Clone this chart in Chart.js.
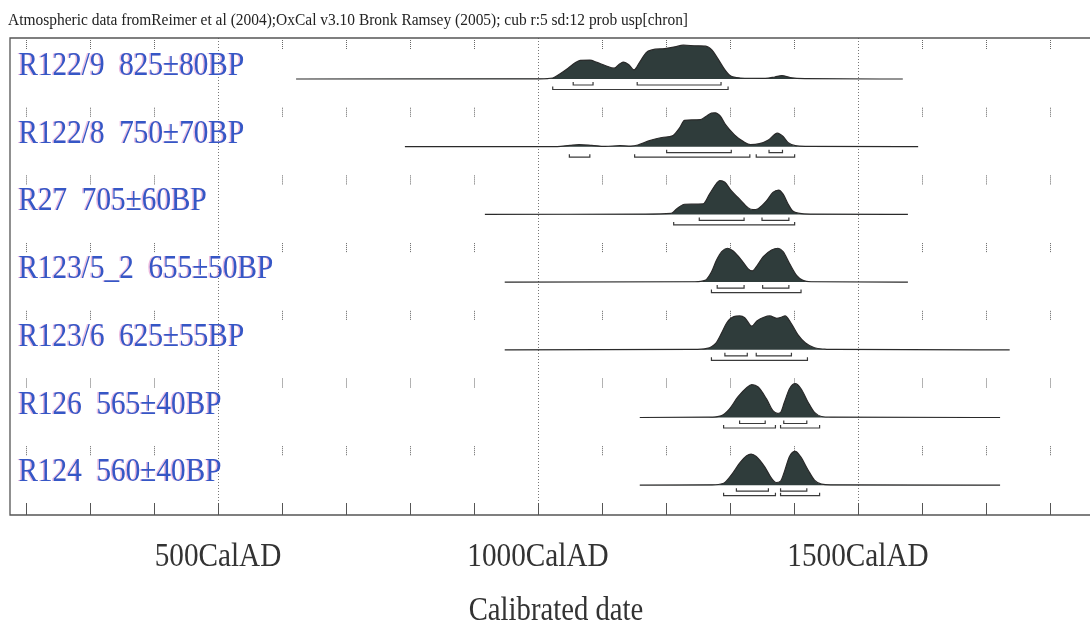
<!DOCTYPE html>
<html>
<head>
<meta charset="utf-8">
<script src="https://cdn.jsdelivr.net/npm/chart.js@4.4.0/dist/chart.umd.min.js"></script>
<style>
  body { margin: 0; background: #fff; }
  #wrap { width: 1090px; height: 622px; }
</style>
</head>
<body>
<div id="wrap"><canvas id="mycanvas" width="1090" height="622"></canvas></div>
<script>
// sample names and radiocarbon ages
var sampleNames = ['R122/9', 'R122/8', 'R27', 'R123/5_2', 'R123/6', 'R126', 'R124'];
var bpAges = [825, 750, 705, 655, 625, 565, 560];
var bpErrors = [80, 70, 60, 50, 55, 40, 40];

// calibrated distributions (year AD, relative probability)
var r1Years = [622, 1003, 1023, 1034, 1047, 1058, 1066, 1081, 1092, 1105, 1119, 1128, 1134, 1142, 1150, 1159, 1169, 1178, 1198, 1214, 1227, 1248, 1262, 1272, 1281, 1291, 1300, 1316, 1355, 1370, 1381, 1394, 1417, 1570];
var r1Prob  = [0, 0.005, 0.03, 0.15, 0.32, 0.48, 0.55, 0.56, 0.49, 0.4, 0.32, 0.45, 0.5, 0.42, 0.27, 0.5, 0.78, 0.86, 0.9, 0.95, 1.0, 0.98, 0.97, 0.85, 0.6, 0.3, 0.1, 0.03, 0.02, 0.06, 0.1, 0.04, 0.01, 0];

var r2Years = [792, 1030, 1050, 1064, 1084, 1105, 1128, 1145, 1156, 1173, 1196, 1210, 1221, 1229, 1240, 1254, 1263, 1271, 1277, 1285, 1293, 1307, 1321, 1332, 1346, 1360, 1374, 1383, 1391, 1402, 1419, 1594];
var r2Prob  = [0, 0.005, 0.04, 0.06, 0.04, 0.01, 0.03, 0.02, 0.05, 0.17, 0.28, 0.32, 0.55, 0.78, 0.79, 0.8, 0.9, 0.99, 1.0, 0.9, 0.65, 0.35, 0.15, 0.06, 0.09, 0.2, 0.4, 0.3, 0.12, 0.03, 0.01, 0];

var r3Years = [917, 1167, 1208, 1216, 1229, 1258, 1268, 1279, 1284, 1292, 1302, 1315, 1328, 1336, 1344, 1357, 1367, 1376, 1383, 1391, 1398, 1409, 1427, 1578];
var r3Prob  = [0, 0.01, 0.03, 0.15, 0.3, 0.31, 0.6, 0.92, 1.0, 0.95, 0.7, 0.45, 0.2, 0.14, 0.17, 0.4, 0.65, 0.72, 0.6, 0.3, 0.1, 0.03, 0.01, 0];

var r4Years = [948, 1245, 1261, 1271, 1279, 1287, 1296, 1305, 1318, 1328, 1335, 1341, 1352, 1365, 1375, 1383, 1393, 1404, 1414, 1427, 1578];
var r4Prob  = [0, 0.01, 0.05, 0.3, 0.65, 0.9, 1.0, 0.92, 0.65, 0.4, 0.33, 0.45, 0.75, 0.95, 1.0, 0.9, 0.55, 0.2, 0.05, 0.01, 0];

var r5Years = [948, 1242, 1264, 1278, 1287, 1295, 1306, 1315, 1323, 1334, 1342, 1354, 1362, 1373, 1381, 1386, 1395, 1406, 1418, 1432, 1448, 1465, 1737];
var r5Prob  = [0, 0.01, 0.04, 0.2, 0.5, 0.8, 0.98, 1.0, 0.95, 0.7, 0.85, 0.97, 1.0, 0.93, 0.97, 1.0, 0.8, 0.45, 0.2, 0.06, 0.02, 0.01, 0];

var r6Years = [1159, 1266, 1286, 1299, 1312, 1326, 1334, 1344, 1357, 1367, 1374, 1379, 1385, 1393, 1402, 1411, 1422, 1432, 1443, 1458, 1722];
var r6Prob  = [0, 0.01, 0.05, 0.25, 0.6, 0.88, 0.97, 0.9, 0.55, 0.2, 0.12, 0.15, 0.45, 0.85, 1.0, 0.85, 0.45, 0.15, 0.03, 0.01, 0];

var r7Years = [1159, 1271, 1289, 1302, 1315, 1326, 1333, 1341, 1354, 1365, 1372, 1379, 1385, 1393, 1402, 1410, 1422, 1432, 1443, 1458, 1722];
var r7Prob  = [0, 0.01, 0.05, 0.3, 0.65, 0.87, 0.92, 0.85, 0.55, 0.2, 0.08, 0.12, 0.4, 0.85, 1.0, 0.85, 0.45, 0.15, 0.03, 0.01, 0];

// 68.2% and 95.4% ranges, [from, to] cal AD
var ranges68 = [
  [[1055, 1086], [1155, 1286]],
  [[1201, 1302], [1361, 1382]],
  [[1252, 1322], [1350, 1392]],
  [[1280, 1322], [1351, 1392]],
  [[1292, 1327], [1341, 1396]],
  [[1315, 1355], [1384, 1420]],
  [[1310, 1360], [1379, 1420]]
];
var ranges95 = [
  [[1023, 1297]],
  [[1049, 1081], [1151, 1331], [1341, 1401]],
  [[1212, 1401]],
  [[1271, 1411]],
  [[1271, 1421]],
  [[1290, 1371], [1379, 1440]],
  [[1290, 1371], [1379, 1440]]
];

// axis
var majorYears = [500, 1000, 1500];
var tickUnit = 'CalAD';
var axisTitle = 'Calibrated date';
var headerText = 'Atmospheric data fromReimer et al (2004);OxCal v3.10 Bronk Ramsey (2005); cub r:5 sd:12 prob usp[chron]';

var rowYears = [r1Years, r2Years, r3Years, r4Years, r5Years, r6Years, r7Years];
var rowProb = [r1Prob, r2Prob, r3Prob, r4Prob, r5Prob, r6Prob, r7Prob];
var peakHeight = 0.5; // in row units

var datasets = [];
for (var r = 0; r < rowYears.length; r++) {
  var pts = [];
  for (var i = 0; i < rowYears[r].length; i++) {
    pts.push({x: rowYears[r][i], y: -r + rowProb[r][i] * peakHeight});
  }
  datasets.push({
    label: sampleNames[r],
    data: pts,
    fill: {value: -r},
    backgroundColor: '#2f3c3b',
    borderColor: '#2a2a2a',
    borderWidth: 1.2,
    pointRadius: 0,
    cubicInterpolationMode: 'monotone'
  });
}

function squeezed(ctx, text, x, y, font, color, sx, align) {
  ctx.save();
  ctx.font = font;
  ctx.fillStyle = color;
  ctx.textAlign = align;
  ctx.textBaseline = 'alphabetic';
  ctx.translate(x, y);
  ctx.scale(sx, 1);
  ctx.fillText(text, 0, 0);
  ctx.restore();
}

var decor = {
  id: 'decor',
  beforeDatasetsDraw: function(chart) {
    var ctx = chart.ctx, a = chart.chartArea;
    var xs = chart.scales.x, ys = chart.scales.y;
    ctx.save();
    // major dotted gridlines
    ctx.strokeStyle = '#777';
    ctx.lineWidth = 1;
    ctx.setLineDash([1, 2]);
    majorYears.forEach(function(v) {
      var px = Math.round(xs.getPixelForValue(v)) + 0.5;
      ctx.beginPath(); ctx.moveTo(px, a.top); ctx.lineTo(px, a.bottom); ctx.stroke();
    });
    // small dotted ticks at the top of every row
    ctx.strokeStyle = '#666';
    ctx.setLineDash([1, 1]);
    for (var r = 0; r < sampleNames.length; r++) {
      var base = ys.getPixelForValue(-r);
      for (var yr = 200; yr <= 1800; yr += 100) {
        if (yr % 500 === 0) continue;
        var px = Math.round(xs.getPixelForValue(yr)) + 0.5;
        ctx.beginPath(); ctx.moveTo(px, base - 39); ctx.lineTo(px, base - 29); ctx.stroke();
      }
    }
    // bottom ticks
    ctx.setLineDash([]);
    ctx.strokeStyle = '#555';
    for (var yr = 200; yr <= 1800; yr += 100) {
      var px = Math.round(xs.getPixelForValue(yr)) + 0.5;
      ctx.beginPath(); ctx.moveTo(px, a.bottom); ctx.lineTo(px, a.bottom - 12); ctx.stroke();
    }
    // frame
    ctx.strokeStyle = '#555';
    ctx.lineWidth = 1.3;
    ctx.beginPath();
    ctx.moveTo(a.right, a.top); ctx.lineTo(a.left, a.top);
    ctx.lineTo(a.left, a.bottom); ctx.lineTo(a.right, a.bottom);
    ctx.stroke();
    ctx.restore();
  },
  afterDatasetsDraw: function(chart) {
    var ctx = chart.ctx, a = chart.chartArea;
    var xs = chart.scales.x, ys = chart.scales.y;
    ctx.save();
    // range brackets
    ctx.strokeStyle = '#3a3a3a';
    ctx.lineWidth = 1.2;
    function bracket(from, to, y) {
      var x1 = xs.getPixelForValue(from), x2 = xs.getPixelForValue(to);
      ctx.beginPath();
      ctx.moveTo(x1, y - 3); ctx.lineTo(x1, y); ctx.lineTo(x2, y); ctx.lineTo(x2, y - 3);
      ctx.stroke();
    }
    for (var r = 0; r < sampleNames.length; r++) {
      var base = ys.getPixelForValue(-r);
      ranges68[r].forEach(function(g) { bracket(g[0], g[1], base + 6); });
      ranges95[r].forEach(function(g) { bracket(g[0], g[1], base + 10.5); });
    }
    // sample labels
    for (var r = 0; r < sampleNames.length; r++) {
      var base = ys.getPixelForValue(-r);
      var txt = sampleNames[r] + '  ' + bpAges[r] + '\u00b1' + bpErrors[r] + 'BP';
      squeezed(ctx, txt, a.left + 7, base - 4, '34px "Liberation Serif"', 'rgba(200,60,160,0.35)', 0.86, 'left');
      squeezed(ctx, txt, a.left + 8.5, base - 4, '34px "Liberation Serif"', '#3557c6', 0.86, 'left');
    }
    // header
    ctx.font = '16px "Liberation Serif"';
    var w = ctx.measureText(headerText).width;
    squeezed(ctx, headerText, 8, 25, '16px "Liberation Serif"', '#222', 680 / w, 'left');
    // axis labels
    majorYears.forEach(function(v) {
      squeezed(ctx, v + tickUnit, xs.getPixelForValue(v), 566, '34px "Liberation Serif"', '#333', 0.86, 'center');
    });
    squeezed(ctx, axisTitle, (a.left + a.right) / 2 + 6, 620, '33px "Liberation Serif"', '#333', 0.87, 'center');
    ctx.restore();
  }
};

var ctx = document.getElementById('mycanvas');
var chart = new Chart(ctx, {
  type: 'line',
  data: { datasets: datasets },
  options: {
    responsive: false,
    animation: false,
    layout: { padding: { left: 10, top: 38, right: 0, bottom: 107 } },
    plugins: { legend: { display: false }, tooltip: { enabled: false } },
    scales: {
      x: { type: 'linear', min: 175, max: 1862.5, display: false },
      y: { type: 'linear', min: -6.44, max: 0.6056, display: false }
    }
  },
  plugins: [decor]
});
</script>
</body>
</html>
